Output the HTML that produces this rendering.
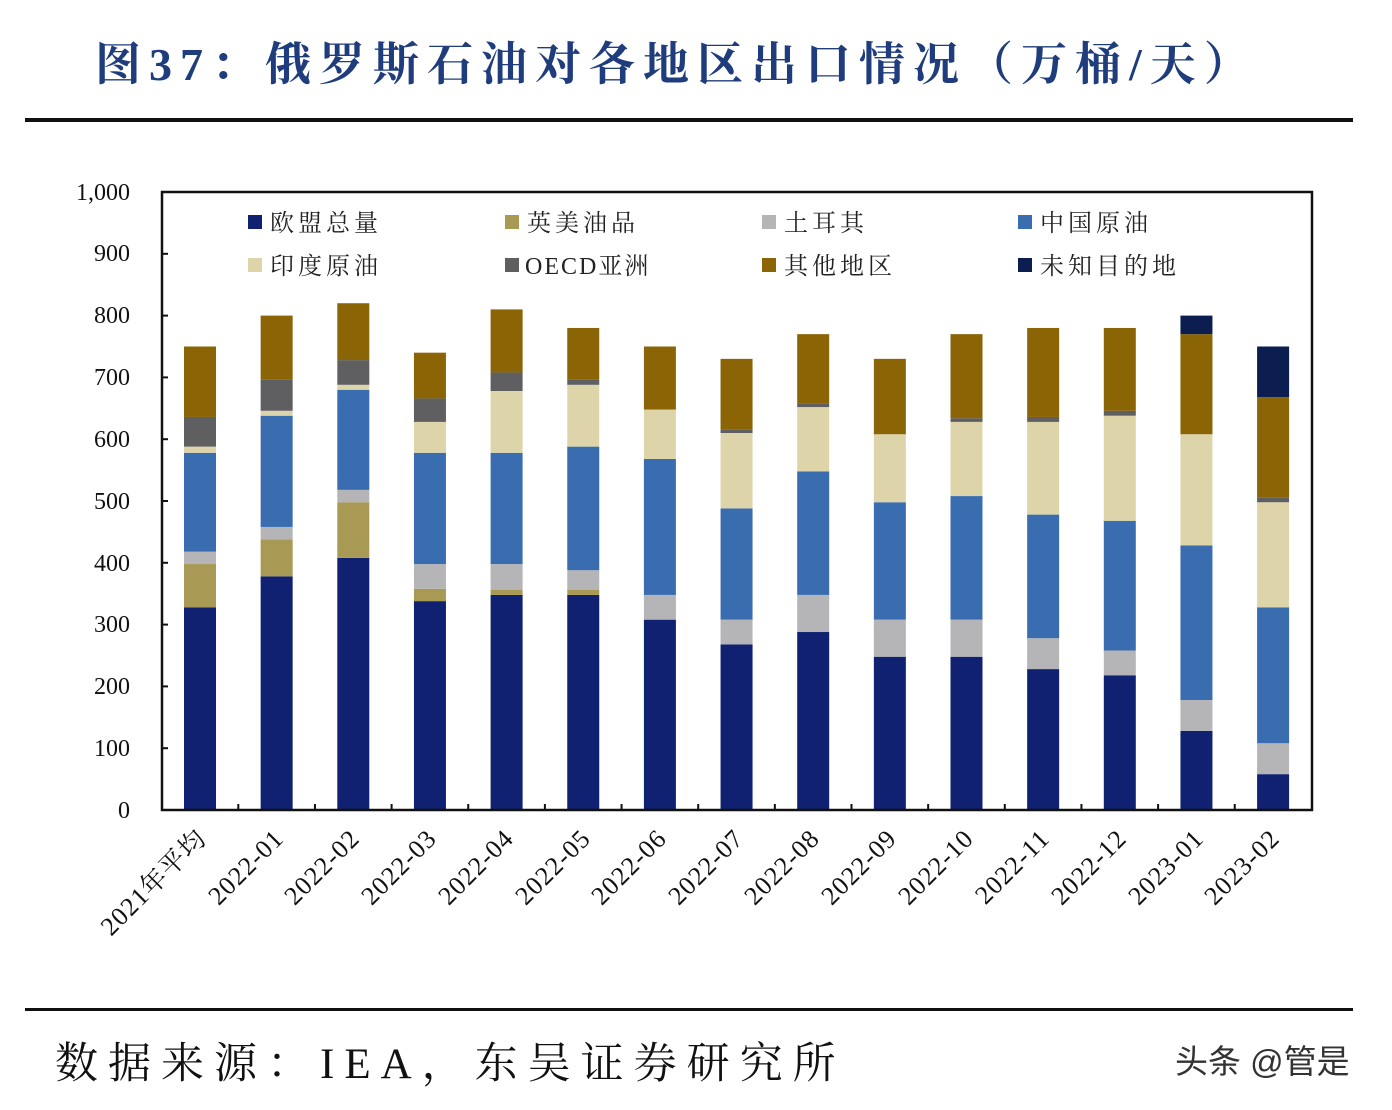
<!DOCTYPE html>
<html><head><meta charset="utf-8">
<style>
body{margin:0;background:#fff;}
svg{display:block;}
.s{font-family:"Liberation Serif","Noto Serif CJK SC",serif;}
</style></head>
<body>
<svg id="c" width="1392" height="1110" xmlns="http://www.w3.org/2000/svg">
<rect width="1392" height="1110" fill="#fff"/>
<text x="95" y="80" class="s" font-size="46" font-weight="bold" fill="#1f3c7c" letter-spacing="8">图37：俄罗斯石油对各地区出口情况（万桶/天）</text>
<rect x="25" y="118" width="1328" height="4" fill="#111"/>
<rect x="25" y="1008" width="1328" height="3" fill="#111"/>
<text x="55" y="1078" class="s" font-size="43" fill="#111" letter-spacing="10">数据来源：IEA，东吴证券研究所</text>
<text x="1175" y="1073" font-family="Liberation Sans,'Noto Sans CJK SC',sans-serif" font-size="33" fill="#333">头条 @管是</text>
<g id="bars"></g>
<rect x="162" y="192" width="1150" height="618" fill="none" stroke="#111" stroke-width="2.5"/>
<g class="s" font-size="24" fill="#111" text-anchor="end">
<text x="130" y="818">0</text><text x="130" y="756">100</text><text x="130" y="694">200</text><text x="130" y="632">300</text><text x="130" y="571">400</text><text x="130" y="509">500</text><text x="130" y="447">600</text><text x="130" y="385">700</text><text x="130" y="323">800</text><text x="130" y="261">900</text><text x="130" y="200">1,000</text>
</g>
<g class="s" font-size="26" fill="#111" text-anchor="end" letter-spacing="1">
<text transform="translate(208,840) rotate(-45)">2021年平均</text>
<text transform="translate(285,840) rotate(-45)">2022-01</text>
<text transform="translate(361,840) rotate(-45)">2022-02</text>
<text transform="translate(438,840) rotate(-45)">2022-03</text>
<text transform="translate(515,840) rotate(-45)">2022-04</text>
<text transform="translate(592,840) rotate(-45)">2022-05</text>
<text transform="translate(668,840) rotate(-45)">2022-06</text>
<text transform="translate(745,840) rotate(-45)">2022-07</text>
<text transform="translate(821,840) rotate(-45)">2022-08</text>
<text transform="translate(898,840) rotate(-45)">2022-09</text>
<text transform="translate(975,840) rotate(-45)">2022-10</text>
<text transform="translate(1051,840) rotate(-45)">2022-11</text>
<text transform="translate(1128,840) rotate(-45)">2022-12</text>
<text transform="translate(1205,840) rotate(-45)">2023-01</text>
<text transform="translate(1281,840) rotate(-45)">2023-02</text>
</g>
<g class="s" font-size="24" fill="#222" letter-spacing="4">
<rect x="248" y="215" width="14" height="14" fill="#0f2170"/><text x="270" y="231">欧盟总量</text>
<rect x="505" y="215" width="14" height="14" fill="#a89a55"/><text x="527" y="231">英美油品</text>
<rect x="762" y="215" width="14" height="14" fill="#b5b5b8"/><text x="784" y="231">土耳其</text>
<rect x="1018" y="215" width="14" height="14" fill="#3a6db0"/><text x="1040" y="231">中国原油</text>
<rect x="248" y="258" width="14" height="14" fill="#ddd5a9"/><text x="270" y="274">印度原油</text>
<rect x="505" y="258" width="14" height="14" fill="#5f5f62"/><text x="525" y="274" letter-spacing="2">OECD亚洲</text>
<rect x="762" y="258" width="14" height="14" fill="#8a6405"/><text x="784" y="274">其他地区</text>
<rect x="1018" y="258" width="14" height="14" fill="#0b1e4f"/><text x="1040" y="274">未知目的地</text>
</g>
</svg>
<script>
var cols=["#0f2170","#a89a55","#b5b5b8","#3a6db0","#ddd5a9","#5f5f62","#8a6405","#0b1e4f"];
var d=[
[328,398,418,578,588,636,750,750],
[378,438,458,638,646,696,800,800],
[408,498,518,680,688,728,820,820],
[338,358,398,578,628,666,740,740],
[348,356,398,578,678,708,810,810],
[348,356,388,588,688,696,780,780],
[308,308,348,568,648,648,750,750],
[268,268,308,488,610,616,730,730],
[288,288,348,548,652,658,770,770],
[248,248,308,498,608,608,730,730],
[248,248,308,508,628,634,770,770],
[228,228,278,478,628,636,780,780],
[218,218,258,468,638,646,780,780],
[128,128,178,428,608,608,770,800],
[58,58,108,328,498,506,668,750]];
var g=document.getElementById("bars"),h="";
for(var i=0;i<15;i++){var cx=200+i*76.65,prev=0;
for(var k=0;k<8;k++){var t=d[i][k];if(t>prev){var y1=810-t*0.618,y0=810-prev*0.618;
h+='<rect x="'+(cx-16)+'" y="'+y1+'" width="32" height="'+(y0-y1)+'" fill="'+cols[k]+'"/>';}prev=t;}
if(i<14)h+='<line x1="'+(cx+38.3)+'" y1="810" x2="'+(cx+38.3)+'" y2="804" stroke="#111" stroke-width="2"/>';}
for(var v=100;v<=1000;v+=100){var y=810-v*0.618;h+='<line x1="162" y1="'+y+'" x2="168" y2="'+y+'" stroke="#111" stroke-width="2"/>';}
g.innerHTML=h;
</script>
</body></html>
